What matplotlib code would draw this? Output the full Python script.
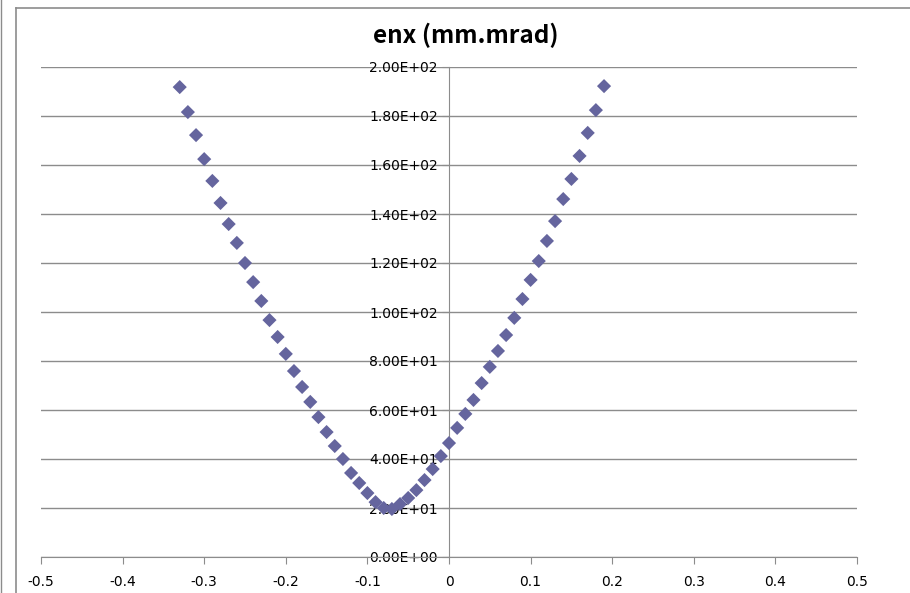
import matplotlib
matplotlib.use("Agg")
import matplotlib.pyplot as plt
from matplotlib.lines import Line2D
from matplotlib.ticker import FuncFormatter, MultipleLocator

# Scan position and normalized x-emittance
x_pos = [-0.33, -0.32, -0.31, -0.30, -0.29, -0.28, -0.27, -0.26, -0.25, -0.24,
         -0.23, -0.22, -0.21, -0.20, -0.19, -0.18, -0.17, -0.16, -0.15, -0.14,
         -0.13, -0.12, -0.11, -0.10, -0.09, -0.08, -0.07, -0.06, -0.05, -0.04,
         -0.03, -0.02, -0.01, 0.00, 0.01, 0.02, 0.03, 0.04, 0.05, 0.06,
         0.07, 0.08, 0.09, 0.10, 0.11, 0.12, 0.13, 0.14, 0.15, 0.16,
         0.17, 0.18, 0.19]
enx = [191.8, 181.6, 172.2, 162.4, 153.5, 144.5, 135.9, 128.2, 120.0, 112.2,
       104.5, 96.7, 89.8, 82.9, 75.9, 69.4, 63.3, 57.1, 51.0, 45.3,
       40.0, 34.3, 30.2, 26.1, 22.4, 20.0, 19.6, 21.6, 24.1, 27.3,
       31.4, 35.9, 41.2, 46.5, 52.7, 58.4, 64.1, 71.0, 77.6, 84.1,
       90.6, 97.6, 105.3, 113.1, 120.8, 129.0, 137.1, 146.1, 154.3, 163.7,
       173.1, 182.4, 192.2]

title = "enx (mm.mrad)"

W, H = 910, 593
fig = plt.figure(figsize=(W / 100, H / 100), dpi=100)
fig.patch.set_facecolor("white")

tick_font = ["Liberation Sans Narrow", "DejaVu Sans"]
grey = "#8c8c8c"

ax = fig.add_axes([41 / W, (H - 557) / H, (857 - 41) / W, 490 / H])
ax.set_xlim(-0.5, 0.5)
ax.set_ylim(0, 200)

ax.scatter(x_pos, enx, marker="D", s=7.2 ** 2, color="#65659e",
           edgecolors="none", zorder=3)

ax.yaxis.set_major_locator(MultipleLocator(20))
ax.xaxis.set_major_locator(MultipleLocator(0.1))
ax.yaxis.set_major_formatter(FuncFormatter(lambda v, p: f"{v:.2E}"))
ax.xaxis.set_major_formatter(
    FuncFormatter(lambda v, p: "0" if abs(v) < 1e-9 else f"{v:g}"))

ax.grid(axis="y", color=grey, linewidth=1.0)
ax.set_axisbelow(True)

for side in ("top", "right"):
    ax.spines[side].set_visible(False)
ax.spines["left"].set_position(("data", 0))
ax.spines["left"].set_color(grey)
ax.spines["bottom"].set_color(grey)

ax.tick_params(axis="both", direction="out", length=5, color=grey,
               labelsize=10)
ax.tick_params(axis="x", pad=8)
ax.tick_params(axis="y", pad=3)
for lab in ax.get_xticklabels() + ax.get_yticklabels():
    lab.set_family(tick_font)

fig.text(466 / W, 1 - 35 / H, title, ha="center", va="center",
         fontsize=17.5, fontweight="bold", family=["Noto Sans CJK JP", "DejaVu Sans"])

# chart frame edges
fig.add_artist(Line2D([16 / W, 16 / W], [0, 1 - 8 / H], transform=fig.transFigure,
                      color=grey, linewidth=1.2))
fig.add_artist(Line2D([16 / W, 1], [1 - 8 / H, 1 - 8 / H], transform=fig.transFigure,
                      color=grey, linewidth=1.2))
fig.add_artist(Line2D([0.5 / W, 0.5 / W], [0, 1], transform=fig.transFigure,
                      color=grey, linewidth=1.0))

fig.savefig("out.png", dpi=100)
